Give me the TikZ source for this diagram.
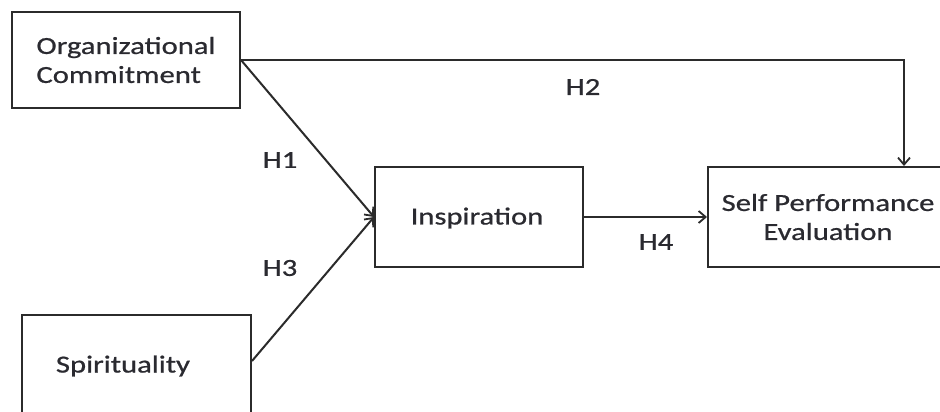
\documentclass[tikz,border=0pt]{standalone}
\usepackage{fontspec}
\setmainfont{Carlito}[FakeStretch=1.25,FakeBold=0.7]
\usetikzlibrary{arrows.meta,calc}
\definecolor{ink}{HTML}{2A2A30}
\definecolor{linec}{HTML}{2B2B2B}
\begin{document}
\begin{tikzpicture}[x=1pt,y=-1pt,
  every node/.style={font=\fontsize{24.5}{29}\selectfont, text=ink},
  boxnode/.style={draw=linec, line width=2pt, rectangle, inner sep=0pt},
  conn/.style={draw=linec, line width=2pt, -{Straight Barb[length=7pt,width=12pt,line width=1.8pt]}},
  lab/.style={inner sep=0pt}]
\path[use as bounding box] (0,0) rectangle (940,412);
\clip (0,0) rectangle (940,412);
\fill[white] (0,0) rectangle (940,412);
% boxes
\node[boxnode, minimum width=228pt, minimum height=96pt, align=left] (org) at (126,60) {Organizational\\Commitment};
\node[boxnode, minimum width=229pt, minimum height=115pt] (spir) at (136.5,372.5) {};
\node[lab] (spirtext) at (123,366) {Spirituality};
\node[boxnode, minimum width=208pt, minimum height=100pt] (insp) at (479,217) {};
\node[lab] (insptext) at (477,218) {Inspiration};
\node[boxnode, minimum width=240pt, minimum height=100pt, align=center] (sel) at (828,217) {Self Performance\\Evaluation};
% connector points
\coordinate (spirout) at ($(spir.north east)+(0,47)$);
\coordinate (h2end) at ($(sel.north west)+(197,0)$);
% connectors
\draw[conn] (org.east) -- (insp.west);
\draw[conn] (spirout) -- (insp.west);
\draw[conn] (org.east) -| (h2end);
\draw[conn] (insp.east) -- (sel.west);
% labels
\node[lab] (h1) at (280,160) {H1};
\node[lab] (h2) at (583,87) {H2};
\node[lab] (h3) at (280,268) {H3};
\node[lab] (h4) at (656,242) {H4};
\end{tikzpicture}
\end{document}
